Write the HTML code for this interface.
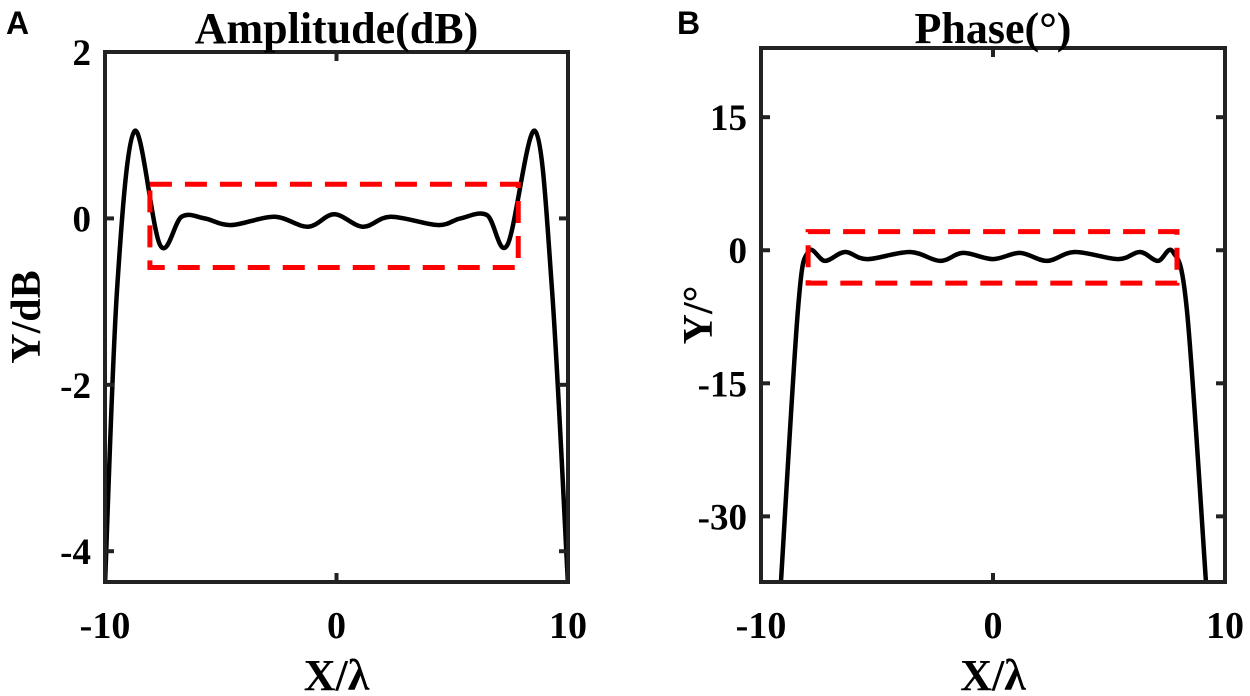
<!DOCTYPE html>
<html><head><meta charset="utf-8"><style>
html,body{margin:0;padding:0;background:#fff;}
svg{display:block;}
</style></head><body>
<svg id="fig" width="1250" height="696" font-family="Liberation Serif, serif" font-weight="bold">
<text x="6" y="34" font-family="Liberation Sans, sans-serif" font-size="32">A</text>
<text x="677" y="34" font-family="Liberation Sans, sans-serif" font-size="32">B</text>
</svg>
<script>
const ampX=[-10,-9.48,-8.72,-7.62,-6.69,-5.7,-4.54,-2.69,-1.23,-0.1,1.14,2.34,4.37,5.35,6.5,7.38,8.58,9.31,10];
const ampY=[-4.4,-0.86,1.05,-0.32,0.02,0,-0.08,0.02,-0.1,0.05,-0.1,0.02,-0.08,0,0.04,-0.32,1.05,-0.86,-4.4];
const ampBox=[-8.06,7.85,-0.59,0.41];
const phX=[-9.14,-8.41,-7.97,-7.24,-6.38,-5.43,-3.58,-2.28,-1.29,0,1.16,2.33,3.53,5.39,6.34,7.11,7.76,8.36,9.18];
const phY=[-37.4,-6.8,-0.2,-1.2,-0.2,-1.0,-0.2,-1.2,-0.3,-1.0,-0.3,-1.2,-0.2,-1.0,-0.2,-1.2,-0.2,-6.8,-37.4];
const phBox=[-7.97,7.93,-3.7,2.1];
const ampYTicks=[-4,-2,0,2], phYTicks=[-30,-15,0,15], xTicks=[-10,0,10];
const NS='http://www.w3.org/2000/svg';
const svg=document.getElementById('fig');
function el(t,a,p){const e=document.createElementNS(NS,t);for(const k in a)e.setAttribute(k,a[k]);(p||svg).appendChild(e);return e;}
function smooth(pts){let d='M'+pts[0][0]+','+pts[0][1];for(let i=0;i<pts.length-1;i++){const p0=pts[Math.max(0,i-1)],p1=pts[i],p2=pts[i+1],p3=pts[Math.min(pts.length-1,i+2)];
d+=' C'+(p1[0]+(p2[0]-p0[0])/6)+','+(p1[1]+(p2[1]-p0[1])/6)+' '+(p2[0]-(p3[0]-p1[0])/6)+','+(p2[1]-(p3[1]-p1[1])/6)+' '+p2[0]+','+p2[1];}return d;}
function panel(o){
  const g=el('g',{});
  
  
  const sx=v=>o.x0+(v+10)/20*(o.x1-o.x0);
  const sy=v=>o.y0+(o.ymax-v)/(o.ymax-o.ymin)*(o.y1-o.y0);
  const cp=el('clipPath',{id:'c'+o.name},g);el('rect',{x:o.x0,y:o.y0,width:o.x1-o.x0,height:o.y1-o.y0},cp);
  const line=el('path',{d:smooth(o.xs.map((v,i)=>[sx(v),sy(o.ys[i])])),fill:'none',stroke:'#000','stroke-width':4.5,'clip-path':'url(#c'+o.name+')'},g);
  
  
  const b=o.box;
  const r=el('rect',{x:sx(b[0]),y:sy(b[3]),width:sx(b[1])-sx(b[0]),height:sy(b[2])-sy(b[3]),fill:'none',stroke:'#f00','stroke-width':5,'stroke-dasharray':'22,13'},g);
  
  
  const ax=el('rect',{x:o.x0,y:o.y0,width:o.x1-o.x0,height:o.y1-o.y0,fill:'none',stroke:'#222','stroke-width':4},g);
  
  
  xTicks.forEach(v=>{const x=sx(v);el('line',{x1:x,x2:x,y1:o.y1,y2:o.y1-9,stroke:'#222','stroke-width':4},g);el('line',{x1:x,x2:x,y1:o.y0,y2:o.y0+9,stroke:'#222','stroke-width':4},g);
    const t=el('text',{x:x,y:638,'text-anchor':'middle','font-size':38},g);t.textContent=v;
    
    });
  o.yt.forEach(v=>{const y=sy(v);el('line',{x1:o.x0,x2:o.x0+9,y1:y,y2:y,stroke:'#222','stroke-width':4},g);el('line',{x1:o.x1,x2:o.x1-9,y1:y,y2:y,stroke:'#222','stroke-width':4},g);
    const t=el('text',{x:o.x0-14,y:y+13,'text-anchor':'end','font-size':37},g);t.textContent=v;
    
    });
  const tt=el('text',{x:(o.x0+o.x1)/2,y:43,'text-anchor':'middle','font-size':44},g);tt.textContent=o.title;
  
  
  const xl=el('text',{x:(o.x0+o.x1)/2,y:690,'text-anchor':'middle','font-size':44},g);xl.textContent='X/λ';
  
  
  const yl=el('text',{x:0,y:0,'text-anchor':'middle','font-size':42,transform:'translate('+o.ylx+','+(o.y0+o.y1)/2+') rotate(-90)'},g);yl.textContent=o.ylab;
  
  
}
panel({name:'amplitude-panel',x0:105,x1:568,y0:52,y1:582,ymin:-4.37,ymax:2.0,xs:ampX,ys:ampY,box:ampBox,yt:ampYTicks,title:'Amplitude(dB)',ylab:'Y/dB',ylx:40});
panel({name:'phase-panel',x0:761,x1:1225,y0:48,y1:582,ymin:-37.4,ymax:22.8,xs:phX,ys:phY,box:phBox,yt:phYTicks,title:'Phase(°)',ylab:'Y/°',ylx:712});
</script>
</body></html>
